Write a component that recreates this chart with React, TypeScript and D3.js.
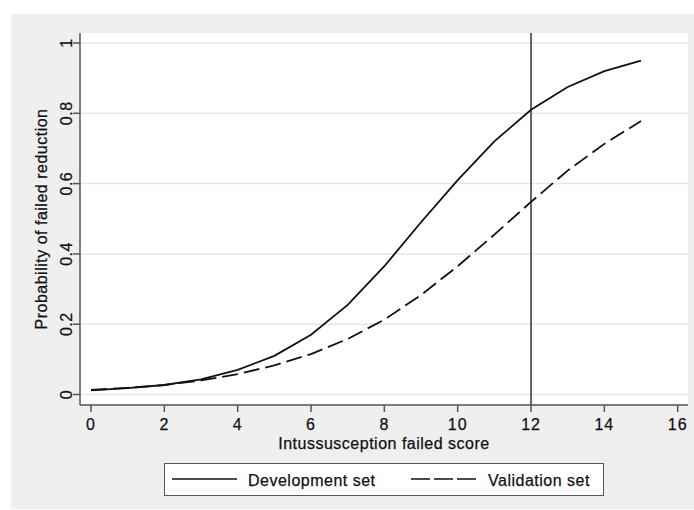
import React from 'react';
import * as d3 from 'd3';

// Scores on the x axis and predicted probabilities
const scores = [0, 1, 2, 3, 4, 5, 6, 7, 8, 9, 10, 11, 12, 13, 14, 15];
const developmentSet = [0.012, 0.018, 0.027, 0.043, 0.07, 0.11, 0.17, 0.255, 0.365, 0.49, 0.61, 0.72, 0.81, 0.875, 0.92, 0.95];
const validationSet = [0.013, 0.019, 0.027, 0.04, 0.058, 0.083, 0.115, 0.158, 0.213, 0.283, 0.365, 0.455, 0.548, 0.637, 0.713, 0.778];
const xTicks = [0, 2, 4, 6, 8, 10, 12, 14, 16];
const yTicks = [0, 0.2, 0.4, 0.6, 0.8, 1];
const cutoff = 12;
const legendLabels = ['Development set', 'Validation set'];

const W = 694;
const H = 510;
const font = '"Liberation Sans", Arial, Helvetica, sans-serif';

const App = () => {
  // plot region
  const left = 80;
  const right = 688;
  const top = 33;
  const bottom = 405;

  const x = d3.scaleLinear().domain([0, 16]).range([91, 677.7]);
  const y = d3.scaleLinear().domain([0, 1]).range([394.5, 43]);

  const line = d3
    .line<number>()
    .x((_, i) => x(scores[i]))
    .y((d) => y(d));

  // slightly heavier text, the reference is a bit blurred/bold
  const textStyle = {
    fontFamily: font,
    fontSize: 16,
    letterSpacing: 0.5,
    fill: '#111',
    stroke: '#111',
    strokeWidth: 0.25,
  };

  return (
    <svg
      width={W}
      height={H}
      style={{ position: 'absolute', left: 0, top: 0 }}
      xmlns='http://www.w3.org/2000/svg'>
      <rect x={0} y={0} width={W} height={H} fill='#ffffff' />
      {/* outer graph region */}
      <rect x={11} y={14} width={W - 11} height={495} fill='#efefef' />
      {/* plot region */}
      <rect x={left} y={top} width={right - left} height={bottom - top} fill='#ffffff' />

      {/* grid lines */}
      {yTicks.map((t) => (
        <line key={'g' + t} x1={left} x2={right} y1={y(t)} y2={y(t)} stroke='#e6e6e6' strokeWidth={1.5} />
      ))}

      {/* cut-off line */}
      <line x1={x(cutoff)} x2={x(cutoff)} y1={top} y2={bottom} stroke='#333' strokeWidth={1.5} />

      {/* curves */}
      <path d={line(developmentSet) || ''} fill='none' stroke='#111' strokeWidth={1.8} />
      <path d={line(validationSet) || ''} fill='none' stroke='#111' strokeWidth={1.8} strokeDasharray='16,6' />

      {/* axes */}
      <line x1={left} x2={left} y1={top} y2={bottom} stroke='#555' strokeWidth={1.5} />
      <line x1={left} x2={right} y1={bottom} y2={bottom} stroke='#555' strokeWidth={1.5} />

      {yTicks.map((t) => (
        <g key={'y' + t}>
          <line x1={73} x2={left} y1={y(t)} y2={y(t)} stroke='#555' strokeWidth={1.5} />
          <text
            transform={`translate(71.5,${y(t)}) rotate(-90)`}
            textAnchor='middle'
            style={textStyle}>
            {d3.format('~g')(t)}
          </text>
        </g>
      ))}

      {xTicks.map((t) => (
        <g key={'x' + t}>
          <line x1={x(t)} x2={x(t)} y1={bottom} y2={412} stroke='#555' strokeWidth={1.5} />
          <text x={x(t)} y={430} textAnchor='middle' style={{ ...textStyle, letterSpacing: 1 }}>
            {t}
          </text>
        </g>
      ))}

      {/* axis titles */}
      <text x={384} y={449} textAnchor='middle' style={textStyle}>
        Intussusception failed score
      </text>
      <text transform={`translate(46.5,${(top + bottom) / 2}) rotate(-90)`} textAnchor='middle' style={textStyle}>
        Probability of failed reduction
      </text>

      {/* legend */}
      <rect x={164.5} y={463.5} width={439} height={32} fill='#ffffff' stroke='#555' strokeWidth={1} />
      <line x1={172} x2={237} y1={479} y2={479} stroke='#111' strokeWidth={1.6} />
      <text x={248} y={486} style={textStyle}>
        {legendLabels[0]}
      </text>
      <line x1={411} x2={476} y1={479} y2={479} stroke='#111' strokeWidth={1.6} strokeDasharray='19,4' />
      <text x={488} y={486} style={textStyle}>
        {legendLabels[1]}
      </text>
    </svg>
  );
};

export default App;
